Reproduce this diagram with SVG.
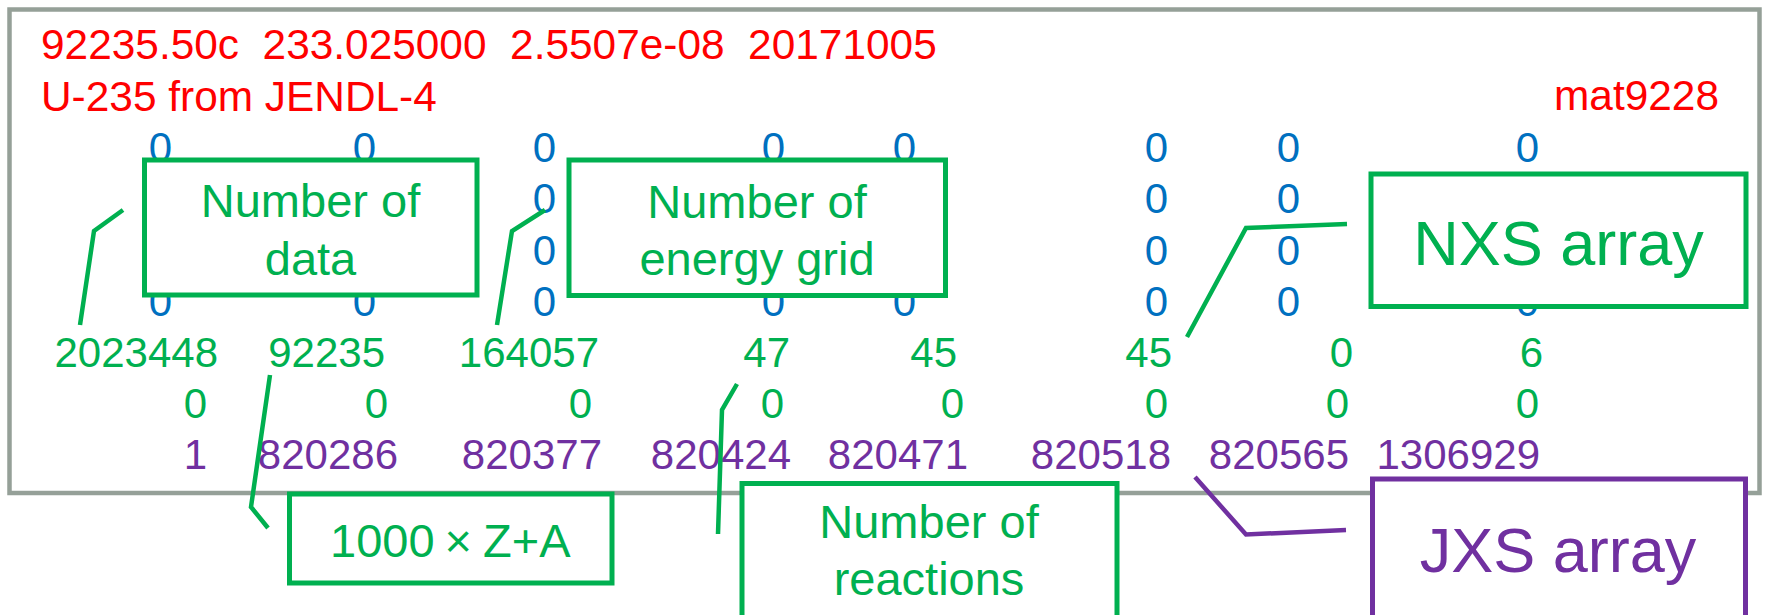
<svg xmlns="http://www.w3.org/2000/svg" width="1768" height="615" viewBox="0 0 1768 615">
<style>
text{font-family:"Liberation Sans",Arial,sans-serif;}
.d{font-size:42px;text-anchor:end;}
.r{fill:#FF0000;font-size:42.4px;}
.b{fill:#0070C0;}
.g{fill:#00B050;}
.p{fill:#7030A0;}
.box{fill:#FFFFFF;stroke-width:5;}
.gb{stroke:#00B050;}
.pb{stroke:#7030A0;}
.lbl{font-size:47px;text-anchor:middle;}
.big{font-size:63px;text-anchor:middle;}
.c{fill:none;stroke-width:4.5;stroke-linejoin:miter;}
</style>
<rect x="0" y="0" width="1768" height="615" fill="#FFFFFF"/>
<rect id="frame" x="9.5" y="9.5" width="1750" height="483.5" fill="none" stroke="#95A098" stroke-width="4.5"/>
<g id="header">
<text class="r" x="41" y="59" xml:space="preserve">92235.50c  233.025000  2.5507e-08  20171005</text>
<text class="r" x="41" y="111">U-235 from JENDL-4</text>
<text class="r" x="1719" y="110" text-anchor="end">mat9228</text>
</g>
<g id="data">
<g class="d b">
<text x="172" y="162">0</text><text x="376" y="162">0</text><text x="556" y="162">0</text><text x="785" y="162">0</text><text x="916" y="162">0</text><text x="1168" y="162">0</text><text x="1300" y="162">0</text><text x="1539" y="162">0</text>
<text x="556" y="213">0</text><text x="1168" y="213">0</text><text x="1300" y="213">0</text>
<text x="556" y="265">0</text><text x="1168" y="265">0</text><text x="1300" y="265">0</text>
<text x="172" y="316">0</text><text x="376" y="316">0</text><text x="556" y="316">0</text><text x="785" y="316">0</text><text x="916" y="316">0</text><text x="1168" y="316">0</text><text x="1300" y="316">0</text><text x="1539" y="316">0</text>
</g>
<g class="d g">
<text x="218" y="367">2023448</text><text x="385" y="367">92235</text><text x="599" y="367">164057</text><text x="790" y="367">47</text><text x="957" y="367">45</text><text x="1172" y="367">45</text><text x="1353" y="367">0</text><text x="1543" y="367">6</text>
<text x="207" y="418">0</text><text x="388" y="418">0</text><text x="592" y="418">0</text><text x="784" y="418">0</text><text x="964" y="418">0</text><text x="1168" y="418">0</text><text x="1349" y="418">0</text><text x="1539" y="418">0</text>
</g>
<g class="d p">
<text x="207" y="469">1</text><text x="398" y="469">820286</text><text x="602" y="469">820377</text><text x="791" y="469">820424</text><text x="968" y="469">820471</text><text x="1171" y="469">820518</text><text x="1349" y="469">820565</text><text x="1540" y="469">1306929</text>
</g>
</g>
<g id="node-ndata">
<rect class="box gb" x="144.5" y="160" width="332.5" height="135"/>
<text class="lbl g" x="310.5" y="217">Number of</text>
<text class="lbl g" x="310.5" y="275">data</text>
</g>
<g id="node-negrid">
<rect class="box gb" x="569" y="160" width="376.5" height="135.5"/>
<text class="lbl g" x="757" y="218">Number of</text>
<text class="lbl g" x="757" y="275">energy grid</text>
</g>
<g id="node-nxs">
<rect class="box gb" x="1371" y="174" width="375" height="132.5"/>
<text class="big g" x="1558.5" y="265">NXS array</text>
</g>
<g id="node-za">
<rect class="box gb" x="289.5" y="494" width="322.5" height="89"/>
<text class="g" x="330" y="557" font-size="47">1000<tspan dx="10">×</tspan><tspan dx="11">Z+A</tspan></text>
</g>
<g id="node-nreac">
<rect class="box gb" x="742" y="483.5" width="375" height="135"/>
<text class="lbl g" x="929" y="538">Number of</text>
<text class="lbl g" x="929" y="595">reactions</text>
</g>
<g id="node-jxs">
<rect class="box pb" x="1372.5" y="479" width="373" height="145"/>
<text class="big p" x="1558" y="572">JXS array</text>
</g>
<g id="connectors">
<polyline class="c gb" points="123,210 94,231 80,325"/>
<polyline class="c gb" points="545,210 512,231 497,325"/>
<polyline class="c gb" points="1347,224 1246,228 1187,337"/>
<polyline class="c gb" points="270,375 251,507 268,528"/>
<polyline class="c gb" points="737,384 722,410 718,534"/>
<polyline class="c pb" points="1195,477 1246,534.5 1346,530"/>
</g>
</svg>
